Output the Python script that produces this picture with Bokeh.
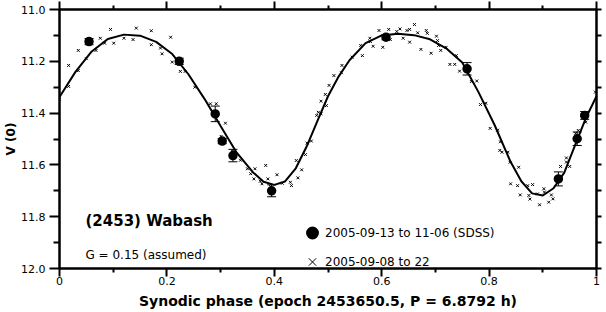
import math
from bokeh.plotting import figure
from bokeh.models import (Range1d, LinearAxis, FixedTicker, CustomJSTickFormatter,
                          Whisker, TeeHead, ColumnDataSource, Label, Legend, LegendItem)
from bokeh.embed import file_html
from bokeh.resources import INLINE

# ---- data ----
curve_phase = [0.00, 0.03, 0.06, 0.09, 0.12, 0.15, 0.18, 0.21, 0.24, 0.27, 0.30, 0.33,
               0.36, 0.38, 0.40, 0.42, 0.44, 0.46, 0.48, 0.50, 0.52, 0.54, 0.57, 0.60,
               0.63, 0.66, 0.69, 0.72, 0.75, 0.78, 0.81, 0.84, 0.86, 0.88, 0.90, 0.92,
               0.94, 0.96, 0.98, 1.00]
curve_mag = [11.338, 11.240, 11.162, 11.114, 11.097, 11.101, 11.125, 11.172, 11.250,
             11.345, 11.450, 11.553, 11.628, 11.665, 11.677, 11.664, 11.613, 11.530,
             11.432, 11.335, 11.258, 11.196, 11.130, 11.100, 11.094, 11.099, 11.115,
             11.150, 11.205, 11.318, 11.445, 11.588, 11.663, 11.710, 11.718, 11.690,
             11.630, 11.525, 11.420, 11.335]

sdss_phase = [0.055, 0.223, 0.290, 0.303, 0.323, 0.395, 0.608, 0.759, 0.929, 0.964, 0.978]
sdss_mag = [11.124, 11.200, 11.403, 11.508, 11.564, 11.700, 11.107, 11.229, 11.654, 11.499, 11.409]
sdss_err = [0.012, 0.012, 0.030, 0.010, 0.024, 0.023, 0.010, 0.024, 0.027, 0.026, 0.015]

obs_phase = [0.000, 0.017, 0.017, 0.035, 0.035, 0.050, 0.068, 0.076, 0.084, 0.095, 0.101,
             0.120, 0.137, 0.143, 0.171, 0.171, 0.188, 0.191, 0.207, 0.210, 0.225, 0.234,
             0.252, 0.281, 0.292, 0.309, 0.301, 0.322, 0.337, 0.350, 0.364, 0.384, 0.356,
             0.362, 0.374, 0.377, 0.388, 0.405, 0.393, 0.415, 0.430, 0.432, 0.444, 0.451,
             0.441, 0.458, 0.469, 0.461, 0.479, 0.482, 0.487, 0.495, 0.502, 0.487, 0.497,
             0.511, 0.525, 0.526, 0.545, 0.564, 0.561, 0.578, 0.584, 0.579, 0.595, 0.602,
             0.613, 0.616, 0.628, 0.634, 0.640, 0.647, 0.652, 0.652, 0.661, 0.667, 0.683,
             0.685, 0.673, 0.692, 0.702, 0.704, 0.706, 0.710, 0.720, 0.739, 0.727, 0.736,
             0.745, 0.767, 0.777, 0.784, 0.794, 0.802, 0.816, 0.821, 0.820, 0.824, 0.835,
             0.839, 0.855, 0.840, 0.853, 0.858, 0.872, 0.881, 0.874, 0.876, 0.890, 0.894,
             0.902, 0.903, 0.911, 0.916, 0.919, 0.933, 0.944, 0.944, 0.950, 0.961, 0.966,
             0.980, 0.998]
obs_mag = [11.347, 11.297, 11.216, 11.236, 11.158, 11.190, 11.158, 11.111, 11.130, 11.077,
           11.130, 11.111, 11.116, 11.072, 11.082, 11.136, 11.149, 11.171, 11.107, 11.203,
           11.239, 11.239, 11.300, 11.364, 11.364, 11.439, 11.490, 11.547, 11.582, 11.615,
           11.615, 11.602, 11.634, 11.654, 11.663, 11.673, 11.654, 11.638, 11.683, 11.671,
           11.667, 11.680, 11.650, 11.619, 11.583, 11.560, 11.508, 11.516, 11.409, 11.397,
           11.354, 11.328, 11.293, 11.403, 11.371, 11.255, 11.244, 11.216, 11.184, 11.178,
           11.139, 11.111, 11.142, 11.124, 11.081, 11.146, 11.077, 11.116, 11.085, 11.075,
           11.111, 11.081, 11.077, 11.126, 11.058, 11.090, 11.081, 11.092, 11.154, 11.169,
           11.103, 11.120, 11.139, 11.158, 11.146, 11.178, 11.212, 11.212, 11.238, 11.278,
           11.276, 11.367, 11.362, 11.459, 11.466, 11.511, 11.544, 11.551, 11.551, 11.590,
           11.609, 11.673, 11.680, 11.716, 11.680, 11.676, 11.718, 11.732, 11.712, 11.754,
           11.692, 11.705, 11.744, 11.716, 11.731, 11.606, 11.573, 11.589, 11.606, 11.478,
           11.467, 11.435, 11.319]

x_major = [0, 0.2, 0.4, 0.6, 0.8, 1.0]
x_minor = [0.1, 0.3, 0.5, 0.7, 0.9]
y_major = [11.0, 11.2, 11.4, 11.6, 11.8, 12.0]
y_minor = [11.1, 11.3, 11.5, 11.7, 11.9]
y_right = [11.0, 11.1, 11.2, 11.3, 11.4, 11.5, 11.6, 11.7, 11.8, 11.9, 12.0]

title_text = "(2453) Wabash"
note_text = "G = 0.15 (assumed)"
sdss_label = "2005-09-13 to 11-06 (SDSS)"
obs_label = "2005-09-08 to 22"
x_title = "Synodic phase (epoch 2453650.5, P = 6.8792 h)"
y_title = "V (0)"

FONT = "DejaVu Sans"

p = figure(width=606, height=312, x_range=Range1d(0, 1), y_range=Range1d(12.0, 11.0),
           output_backend="svg", toolbar_location=None,
           min_border_left=59, min_border_right=10, min_border_top=9, min_border_bottom=44)
p.grid.visible = False
p.outline_line_color = "black"
p.outline_line_width = 2
p.background_fill_color = "white"
p.border_fill_color = "white"

xa = p.xaxis[0]
xa.ticker = FixedTicker(ticks=x_major, minor_ticks=x_minor)
xa.formatter = CustomJSTickFormatter(code="return (Math.round(tick*10)/10).toString();")
ya = p.yaxis[0]
ya.ticker = FixedTicker(ticks=y_major, minor_ticks=y_minor)
ya.formatter = CustomJSTickFormatter(code="return tick.toFixed(1);")

ta = LinearAxis(ticker=FixedTicker(ticks=x_major, minor_ticks=x_minor),
                formatter=CustomJSTickFormatter(code="return '';"))
ra = LinearAxis(ticker=FixedTicker(ticks=y_right),
                formatter=CustomJSTickFormatter(code="return '';"))

for ax in (xa, ya, ta, ra):
    ax.axis_line_color = "black"
    ax.axis_line_width = 2
    ax.major_tick_line_color = "black"
    ax.major_tick_line_width = 2
    ax.minor_tick_line_color = "black"
    ax.minor_tick_line_width = 2
    ax.major_tick_in = 0
    ax.minor_tick_in = 0
    ax.major_label_text_font = FONT
    ax.major_label_text_font_size = "11px"
    ax.major_label_text_color = "black"
    ax.axis_label_text_font = FONT
    ax.axis_label_text_font_style = "bold"
    ax.axis_label_text_color = "black"

for ax in (ta, ra):
    ax.major_label_text_font_size = "1px"
    ax.major_label_standoff = 0

xa.major_tick_out = 8
xa.minor_tick_out = 4
xa.major_label_standoff = 0
xa.axis_label = x_title
xa.axis_label_text_font_size = "14px"
xa.axis_label_standoff = 5

ya.major_tick_out = 10
ya.minor_tick_out = 6
ya.major_label_standoff = 4
ya.axis_label = y_title
ya.axis_label_text_font_size = "12px"
ya.axis_label_standoff = 0

ta.major_tick_out = 8
ta.minor_tick_out = 4
ra.major_tick_out = 5
ra.minor_tick_out = 0

p.add_layout(ta, "above")
p.add_layout(ra, "right")

# fitted curve
p.line(curve_phase, curve_mag, line_color="black", line_width=2)

# error bars
src = ColumnDataSource(dict(x=sdss_phase, y=sdss_mag,
                            lo=[m - e for m, e in zip(sdss_mag, sdss_err)],
                            hi=[m + e for m, e in zip(sdss_mag, sdss_err)]))
wh = Whisker(source=src, base="x", lower="lo", upper="hi", dimension="height",
             line_color="black", line_width=1, level="underlay",
             lower_head=TeeHead(size=9, line_color="black", line_width=1),
             upper_head=TeeHead(size=9, line_color="black", line_width=1))
p.add_layout(wh)

crosses = p.scatter(obs_phase, obs_mag, marker="x", size=4, line_color="black", line_width=1)
dots = p.scatter("x", "y", source=src, marker="circle", size=7, line_width=2.5,
                 fill_color="black", line_color="black")

legend = Legend(items=[LegendItem(label=sdss_label, renderers=[dots]),
                       LegendItem(label=obs_label, renderers=[crosses])],
                location=(240, -8), glyph_width=26, glyph_height=29, spacing=0,
                label_height=29, label_standoff=0, padding=0, margin=0,
                border_line_color=None, background_fill_alpha=0, label_text_font=FONT,
                label_text_font_size="12px", label_text_color="black")
p.add_layout(legend)

p.add_layout(Label(x=26, y=48, x_units="screen", y_units="screen", text=title_text,
                   text_font=FONT, text_font_style="bold", text_font_size="15px",
                   text_baseline="alphabetic", text_color="black"))
p.add_layout(Label(x=26, y=13.5, x_units="screen", y_units="screen", text=note_text,
                   text_font=FONT, text_font_size="12px",
                   text_baseline="alphabetic", text_color="black"))

open("out.html", "w").write(file_html(p, INLINE))
